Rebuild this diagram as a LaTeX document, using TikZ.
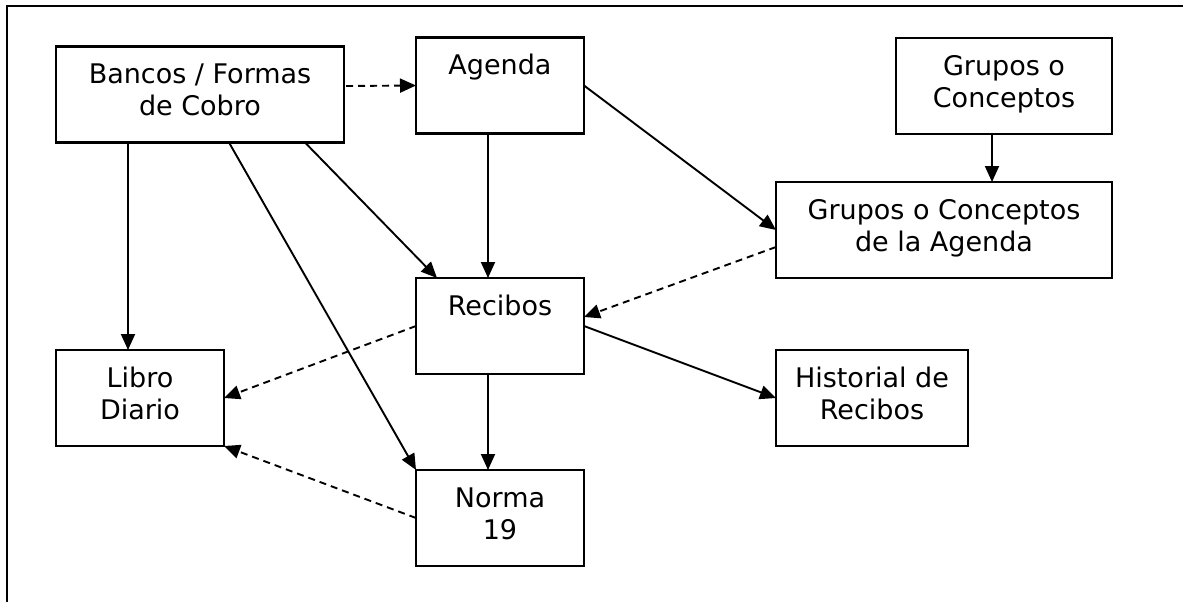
\documentclass[tikz,border=0pt]{standalone}
\usepackage{fontspec}
\setmainfont{DejaVu Sans}
\usetikzlibrary{arrows.meta}
\newcommand\boxtxt[3]{\parbox[c][#2][t]{#1}{\centering\rule{0pt}{37pt}#3}}
\tikzset{
  box/.style={draw, line width=2.2pt, inner sep=0pt, outer sep=0pt, rectangle,
    font=\fontsize{27}{32}\selectfont},
  conn/.style={line width=1.9pt, -{Triangle[length=16pt,width=14pt]}},
  dconn/.style={conn, dash pattern=on 7pt off 5pt},
  frameline/.style={line width=2.4pt}
}
\begin{document}
\begin{tikzpicture}[x=1pt,y=-1pt]
\useasboundingbox (0,0) rectangle (1183,602);
\draw[frameline] (7,602) -- (7,6) -- (1183,6);

\node[box] (bancos) at (200,94.5) {\boxtxt{288pt}{96pt}{Bancos / Formas\\de Cobro}};
\node[box] (agenda) at (500,85.5) {\boxtxt{168pt}{96pt}{Agenda}};
\node[box] (gc) at (1004,86) {\boxtxt{216pt}{96pt}{Grupos o\\Conceptos}};
\node[box] (gca) at (944,230) {\boxtxt{336pt}{96pt}{Grupos o Conceptos\\de la Agenda}};
\node[box] (recibos) at (500,326) {\boxtxt{168pt}{96pt}{Recibos}};
\node[box] (libro) at (140,398) {\boxtxt{168pt}{96pt}{Libro\\Diario}};
\node[box] (historial) at (872,398) {\boxtxt{192pt}{96pt}{Historial de\\Recibos}};
\node[box] (norma) at (500,518) {\boxtxt{168pt}{96pt}{Norma\\19}};

\draw[dconn] ([yshift=8.5pt,xshift=2pt]bancos.east) -- ([yshift=0pt]agenda.west);
\draw[conn] (agenda.east) -- (gca.west);
\draw[conn] ([xshift=-12pt]gc.south) -- ([xshift=-12pt]gc.south |- gca.north);
\draw[conn] ([xshift=-12pt]agenda.south) -- ([xshift=-12pt]recibos.north);
\draw[dconn] ([yshift=-17pt]gca.west) -- ([yshift=9pt]recibos.east);
\draw[conn] (recibos.east) -- (historial.west);
\draw[dconn] (recibos.west) -- (libro.east);
\draw[dconn] ([yshift=0pt]norma.west) -- (libro.south east);
\draw[conn] ([xshift=-12pt]libro.north |- bancos.south) -- ([xshift=-12pt]libro.north);
\draw[conn] ([xshift=29pt]bancos.south) -- (norma.north west);
\draw[conn] ([xshift=105pt]bancos.south) -- ([xshift=-63pt]recibos.north);
\draw[conn] ([xshift=-12pt]recibos.south) -- ([xshift=-12pt]norma.north);
\end{tikzpicture}
\end{document}
